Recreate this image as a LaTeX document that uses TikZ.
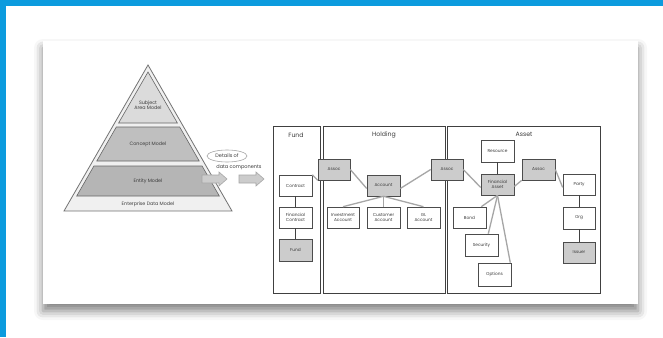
\documentclass[tikz,border=0pt]{standalone}
\usepackage{fontspec}
\setmainfont{Poppins}
\usetikzlibrary{shadows.blur}
\definecolor{edgeblue}{RGB}{12,155,222}
\definecolor{txt}{RGB}{60,60,60}
\tikzset{
  ent/.style={draw=black!70, line width=0.6pt, fill=white, rectangle,
    inner sep=0pt, align=center, text=txt, font=\fontsize{4.3}{4.9}\selectfont,
    minimum width=33pt, minimum height=21pt},
  gent/.style={ent, fill=gray!40},
  area/.style={draw=black!75, line width=0.7pt, fill=white},
  areatitle/.style={text=txt, font=\fontsize{6.2}{7}\selectfont},
  glink/.style={draw=gray!70, line width=1.3pt},
  dlink/.style={draw=black!75, line width=0.8pt},
  layer/.style={draw=black!60, line width=0.6pt},
  ptext/.style={text=txt, font=\fontsize{4.8}{5.6}\selectfont, align=center},
  barrow/.style={draw=gray!70, line width=0.6pt, fill=gray!40}
}
\begin{document}
\begin{tikzpicture}[x=1pt,y=-1pt]
\useasboundingbox (0,0) rectangle (663,337);
% frame edges
\fill[edgeblue] (0,0) rectangle (663,6);
\fill[edgeblue] (0,0) rectangle (6,337);
% card
\fill[white, blur shadow={shadow xshift=0pt, shadow yshift=-7pt, shadow blur radius=9pt, shadow opacity=50}]
  (43,41) rectangle (638,304);

% ---- pyramid ----
\draw[layer, fill=gray!12, draw=black!55, line width=0.8pt] (148,65) -- (232,211) -- (64,211) -- cycle;
\draw[layer, fill=gray!28] (148,72) -- (177.4,123) -- (118.6,123) -- cycle;
\draw[layer, fill=gray!50] (116.3,127) -- (179.7,127) -- (199.2,161) -- (96.8,161) -- cycle;
\draw[layer, fill=gray!58] (93.9,166) -- (202.1,166) -- (219.3,196) -- (76.7,196) -- cycle;
\node[ptext] (subj) at (148,105) {Subject\\Area Model};
\node[ptext] (conc) at (148,144) {Concept Model};
\node[ptext] (enty) at (148,181) {Entity Model};
\node[ptext] (entp) at (148,204) {Enterprise Data Model};

% details label and block arrows
\node[ptext, font=\fontsize{5}{6}\selectfont] (det) at (227,156) {Details of};
\draw[gray!70, line width=0.6pt] (det.center) ellipse (20pt and 6pt);
\node[ptext, font=\fontsize{5}{6}\selectfont] (dc) at (239,167) {data components};
\draw[barrow] (202,175) -- (219,175) -- (219,172) -- (227,179) -- (219,186) -- (219,183) -- (202,183) -- cycle;
\draw[barrow] (239,175) -- (256,175) -- (256,172) -- (264,179) -- (256,186) -- (256,183) -- (239,183) -- cycle;

% ---- subject areas ----
\draw[area] (273,126) rectangle (320,293);
\draw[area] (323,126) rectangle (445,293);
\draw[area] (447,126) rectangle (600,293);
\node[areatitle] (tfund) at (296,135) {Fund};
\node[areatitle] (thold) at (384,135) {Holding};
\node[areatitle] (tasset) at (524,134) {Asset};

% fund
\node[ent] (contract) at (295.5,185.5) {Contract};
\node[ent] (fincon) at (295.5,217.5) {Financial\\Contract};
\node[gent, minimum height=22pt] (fund) at (295.5,250) {Fund};

% holding
\node[gent, minimum width=32pt] (assocA) at (334,169.5) {Assoc};
\node[gent] (account) at (383.5,185.5) {Account};
\node[ent, minimum width=32pt] (invest) at (343,217.5) {Investment\\Account};
\node[ent] (customer) at (383.5,217.5) {Customer\\Account};
\node[ent] (gl) at (423.5,217.5) {GL\\Account};
\node[gent, minimum width=32pt] (assocB) at (447,169.5) {Assoc};

% asset
\node[ent, minimum height=22pt] (resource) at (497.5,151) {Resource};
\node[gent] (finasset) at (497.5,184.5) {Financial\\Asset};
\node[gent] (assocC) at (538.5,169.5) {Assoc};
\node[ent, minimum width=32pt] (party) at (579,184.5) {Party};
\node[ent, minimum width=32pt, minimum height=22pt] (org) at (579,218) {Org};
\node[gent, minimum width=32pt] (issuer) at (579,252.5) {Issuer};
\node[ent] (bond) at (469.5,217.5) {Bond};
\node[ent, minimum height=22pt] (security) at (481.5,245) {Security};
\node[ent, minimum height=23pt] (options) at (494.5,274.5) {Options};

% ---- relationships ----
\draw[glink] (contract.north east) -- (assocA.south west);
\draw[dlink] (contract) -- (fincon);
\draw[dlink] (fincon) -- (fund);
\draw[glink] (assocA.east) -- ([yshift=-3pt]account.west);
\draw[glink] ([yshift=-3pt]account.east) -- (assocB.west);
\draw[glink] (account.south) -- (invest.north);
\draw[glink] (account.south) -- (customer.north);
\draw[glink] (account.south) -- (gl.north);
\draw[glink] (assocB.east) -- ([yshift=-3pt]finasset.west);
\draw[dlink] (resource) -- (finasset);
\draw[glink] ([yshift=-2pt]finasset.east) -- (assocC.south west);
\draw[glink] (assocC.east) -- ([yshift=-3pt]party.west);
\draw[dlink] (party) -- (org);
\draw[dlink] (org) -- (issuer);
\draw[glink] (finasset.south) -- ([xshift=-5pt]bond.north east);
\draw[glink] (finasset.south) -- ([xshift=-10pt]security.north east);
\draw[glink] (finasset.south) -- ([xshift=-1pt]options.north east);
\end{tikzpicture}
\end{document}
